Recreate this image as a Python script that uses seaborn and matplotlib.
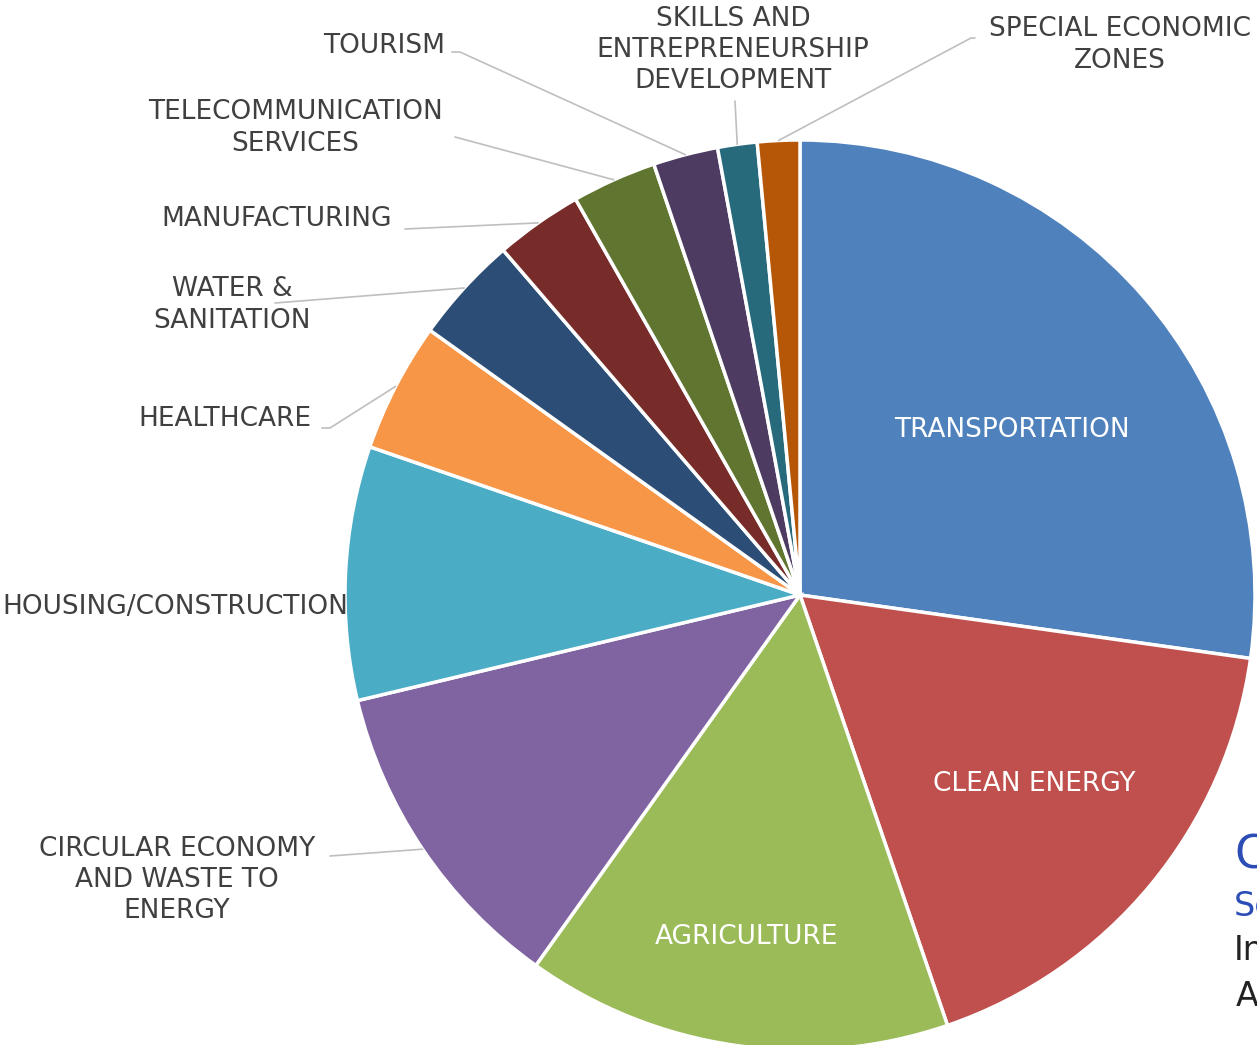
import numpy as np
import matplotlib
matplotlib.use('Agg')
from matplotlib import pyplot as plt
import seaborn as sns

# sectors, clockwise from 12 o'clock (share of total, %)
sectors = ['TRANSPORTATION', 'CLEAN ENERGY', 'AGRICULTURE',
           'CIRCULAR ECONOMY\nAND WASTE TO\nENERGY', 'HOUSING/CONSTRUCTION',
           'HEALTHCARE', 'WATER &\nSANITATION', 'MANUFACTURING',
           'TELECOMMUNICATION\nSERVICES', 'TOURISM',
           'SKILLS AND\nENTREPRENEURSHIP\nDEVELOPMENT',
           'SPECIAL ECONOMIC\nZONES']
shares = [27.2, 17.5, 15.1, 11.4, 9.0, 4.6, 3.8, 3.1, 3.0, 2.3, 1.4, 1.5]
colors = ['#4F81BD', '#C0504D', '#9BBB59', '#8064A2', '#4BACC6', '#F79646',
          '#2C4D75', '#772C2A', '#5F7530', '#4D3B62', '#276A7C', '#B65708']

# label placement (pixel coords, y measured from top), line anchor or None
label_pos = [(1012, 430), (1034, 784), (746, 937), (177, 880), (175, 607),
             (225, 419), (232, 305), (277, 219), (295, 128), (384, 46),
             (733, 50), (1120, 45)]
line_start = [None, None, None, (330, 856), None, (322, 428), (275, 303),
              (405, 229), (455, 137), (452, 52), (735, 101), (975, 38)]
# short horizontal stub next to the label before the slanted part
stub = [0, 0, 0, 0, 0, 8, 0, 0, 0, 8, 0, -4]
inside = [True, True, True] + [False] * 9

W, H = 1257, 1045
CX, CY, R = 800, 595, 455
FS = 19

sns.set_theme(style='white')
plt.rcParams['font.family'] = ['DejaVu Sans']

fig = plt.figure(figsize=(W / 100, H / 100), dpi=100)
ax = fig.add_axes([0, 0, 1, 1])

wedges, _ = ax.pie(shares, colors=sns.color_palette(colors), startangle=90,
                   counterclock=False, center=(CX, H - CY), radius=R,
                   wedgeprops=dict(edgecolor='white', linewidth=2.5))
ax.set_xlim(0, W)
ax.set_ylim(0, H)
ax.set_aspect('equal')
ax.axis('off')

for w, lab, pos, ls, st, ins in zip(wedges, sectors, label_pos, line_start,
                                    stub, inside):
    if ins:
        ax.text(pos[0], H - pos[1], lab, ha='center', va='center',
                color='white', fontsize=FS)
        continue
    ax.text(pos[0], H - pos[1], lab, ha='center', va='center',
            color='#404040', fontsize=FS, linespacing=1.27)
    if ls is not None:
        mid = np.deg2rad((w.theta1 + w.theta2) / 2)
        ex = CX + R * np.cos(mid)
        ey = (H - CY) + R * np.sin(mid)
        xs = [ls[0], ls[0] + st, ex]
        ys = [H - ls[1], H - ls[1], ey]
        ax.plot(xs, ys, color='#bfbfbf', lw=1.2)

# partly hidden side text at the right edge
ax.text(1234, H - 855, 'Capital', color='#2B4DB5', fontsize=33,
        va='center', ha='left')
ax.text(1234, H - 907, 'Sectors', color='#2B4DB5', fontsize=24,
        va='center', ha='left')
ax.text(1234, H - 951, 'Investment', color='#222222', fontsize=24,
        va='center', ha='left')
ax.text(1236, H - 997, 'Africa', color='#222222', fontsize=24,
        va='center', ha='left')

fig.savefig('out.png', dpi=100, facecolor='white')
